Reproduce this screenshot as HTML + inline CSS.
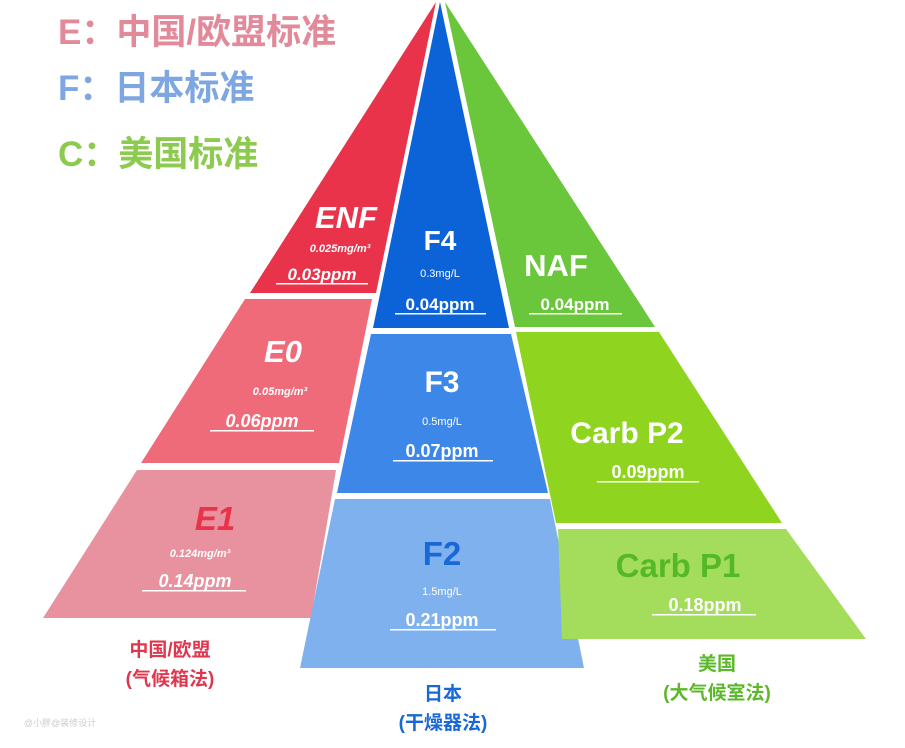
<!DOCTYPE html>
<html><head><meta charset="utf-8"><style>
html,body{margin:0;padding:0;background:#fff;width:905px;height:748px;overflow:hidden}
svg{display:block}
text{font-family:"Liberation Sans","Noto Sans CJK SC",sans-serif;font-weight:bold;text-anchor:middle}
.w{fill:#fff}
</style></head><body>
<svg width="905" height="748" viewBox="0 0 905 748">
<!-- Red column -->
<polygon points="436,2 376,293 250,293" fill="#e8334a"/>
<polygon points="245,299 372,299 339,463 141,463" fill="#ef6b7a"/>
<polygon points="137,470 336,470 311,618 43,618" fill="#e8919f"/>
<!-- Blue column -->
<polygon points="440,2 509,328 373,328" fill="#0c63d8"/>
<polygon points="371,334 511,334 548,493 337,493" fill="#3c87e8"/>
<polygon points="335,499 550,499 584,668 300,668" fill="#80b1ef"/>
<!-- Green column -->
<polygon points="445,2 655,327 515,327" fill="#6ac63a"/>
<polygon points="516,332 659,332 782,523 556,523" fill="#8fd41f"/>
<polygon points="558,529 786,529 866,639 562,639" fill="#a4dc5b"/>

<!-- Legend -->
<text x="58" y="44" font-size="35" fill="#e28a9a" style="text-anchor:start">E：中国/欧盟标准</text>
<text x="58" y="100" font-size="35" fill="#7ea6e0" style="text-anchor:start">F：日本标准</text>
<text x="58" y="166" font-size="35" fill="#8ccb4f" style="text-anchor:start">C：美国标准</text>

<!-- ENF -->
<text x="346" y="228" font-size="31" class="w" font-style="italic">ENF</text>
<text x="340" y="252" font-size="11" class="w" font-style="italic">0.025mg/m³</text>
<text x="322" y="280" font-size="17" class="w" font-style="italic">0.03ppm</text>
<rect x="276" y="283" width="92" height="1.5" fill="#fff"/>
<!-- F4 -->
<text x="440" y="250" font-size="28" class="w">F4</text>
<text x="440" y="277" font-size="11" class="w" style="font-weight:normal">0.3mg/L</text>
<text x="440" y="310" font-size="17" class="w">0.04ppm</text>
<rect x="395" y="313" width="91" height="1.5" fill="#fff"/>
<!-- NAF -->
<text x="556" y="276" font-size="31" class="w">NAF</text>
<text x="575" y="310" font-size="17" class="w">0.04ppm</text>
<rect x="529" y="313" width="93" height="1.5" fill="#fff"/>
<!-- E0 -->
<text x="283" y="362" font-size="31" class="w" font-style="italic">E0</text>
<text x="280" y="395" font-size="11" class="w" font-style="italic">0.05mg/m³</text>
<text x="262" y="427" font-size="18" class="w" font-style="italic">0.06ppm</text>
<rect x="210" y="430" width="104" height="1.5" fill="#fff"/>
<!-- F3 -->
<text x="442" y="392" font-size="30" class="w">F3</text>
<text x="442" y="425" font-size="11" class="w" style="font-weight:normal">0.5mg/L</text>
<text x="442" y="457" font-size="18" class="w">0.07ppm</text>
<rect x="393" y="460" width="100" height="1.5" fill="#fff"/>
<!-- Carb P2 -->
<text x="627" y="443" font-size="30" class="w">Carb P2</text>
<text x="648" y="478" font-size="18" class="w">0.09ppm</text>
<rect x="597" y="481" width="102" height="1.5" fill="#fff"/>
<!-- E1 -->
<text x="215" y="530" font-size="33" fill="#e8334a" font-style="italic">E1</text>
<text x="200" y="557" font-size="11" class="w" font-style="italic">0.124mg/m³</text>
<text x="195" y="587" font-size="18" class="w" font-style="italic">0.14ppm</text>
<rect x="142" y="590" width="104" height="1.5" fill="#fff"/>
<!-- F2 -->
<text x="442" y="565" font-size="33" fill="#1868d8">F2</text>
<text x="442" y="595" font-size="11" class="w" style="font-weight:normal">1.5mg/L</text>
<text x="442" y="626" font-size="18" class="w">0.21ppm</text>
<rect x="390" y="629" width="106" height="1.5" fill="#fff"/>
<!-- Carb P1 -->
<text x="678" y="577" font-size="33" fill="#55b826">Carb P1</text>
<text x="705" y="611" font-size="18" class="w">0.18ppm</text>
<rect x="652" y="614" width="104" height="1.5" fill="#fff"/>

<!-- Bottom labels -->
<text x="170" y="656" font-size="19" fill="#e0364e">中国/欧盟</text>
<text x="170" y="685" font-size="19" fill="#e0364e">(气候箱法)</text>
<text x="443" y="700" font-size="19" fill="#1868d8">日本</text>
<text x="443" y="729" font-size="19" fill="#1868d8">(干燥器法)</text>
<text x="717" y="670" font-size="19" fill="#5cb82a">美国</text>
<text x="717" y="699" font-size="19" fill="#5cb82a">(大气候室法)</text>
<text x="60" y="726" font-size="9" fill="#ccc" style="font-weight:normal">@小胖@装修设计</text>
</svg>
</body></html>
